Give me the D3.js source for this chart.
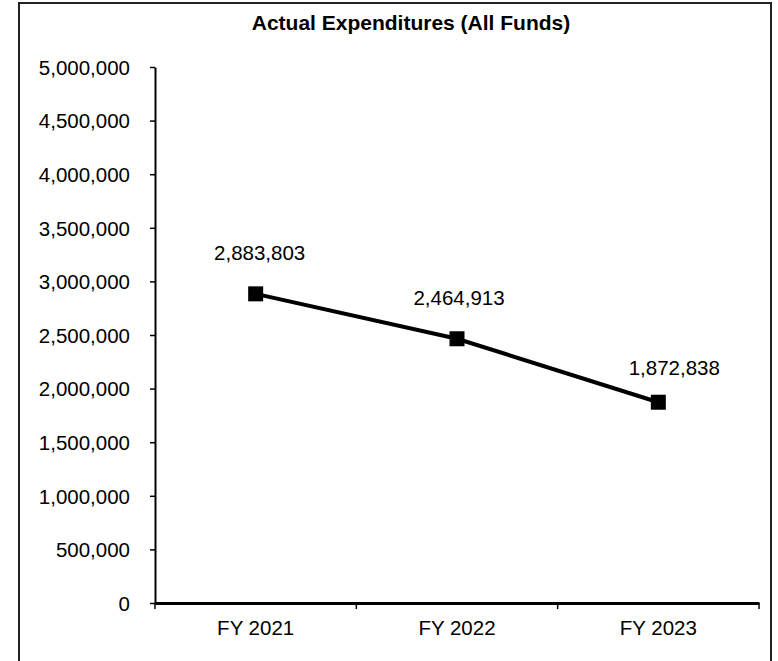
<!DOCTYPE html>
<html>
<head>
<meta charset="utf-8">
<script src="https://cdn.jsdelivr.net/npm/d3@7/dist/d3.min.js"></script>
<style>
  html, body { margin: 0; padding: 0; background: #fff; }
  svg { display: block; font-family: "Liberation Sans", Arial, sans-serif; }
</style>
</head>
<body>
<svg id="chart" width="778" height="661"></svg>
<script>
// ---- data ----
const categories = ["FY 2021", "FY 2022", "FY 2023"];
const values = [2883803, 2464913, 1872838];
const yTickValues = [0, 500000, 1000000, 1500000, 2000000, 2500000, 3000000, 3500000, 4000000, 4500000, 5000000];
const title = "Actual Expenditures (All Funds)";

// ---- layout ----
const W = 778, H = 661;
const plot = { left: 155, right: 759, top: 67, bottom: 603 };
const labelOffsets = [[4, -34], [2, -34], [16, -27]]; // data label nudges (px)

const svg = d3.select("#chart");

// frame
svg.append("rect")
  .attr("x", 19).attr("y", 3)
  .attr("width", 752).attr("height", 720)
  .attr("fill", "none").attr("stroke", "#222").attr("stroke-width", 2);

// title
svg.append("text")
  .attr("x", 411).attr("y", 30)
  .attr("text-anchor", "middle")
  .attr("font-size", 21).attr("font-weight", "bold")
  .attr("fill", "#000")
  .text(title);

const x = d3.scaleBand().domain(categories).range([plot.left, plot.right]);
const y = d3.scaleLinear().domain([0, 5000000]).range([plot.bottom, plot.top]);
const fmt = d3.format(",");

// y axis
const yAxis = svg.append("g")
  .attr("transform", `translate(${plot.left},0)`)
  .call(d3.axisLeft(y).tickValues(yTickValues).tickFormat(fmt).tickSize(5).tickSizeOuter(0).tickPadding(20));
yAxis.select(".domain").attr("stroke", "#000").attr("stroke-width", 2);
yAxis.selectAll(".tick line").attr("stroke", "#000").attr("stroke-width", 1.5);
yAxis.selectAll(".tick text")
  .attr("font-size", 20.5).attr("fill", "#000")
  .attr("font-family", "Liberation Sans, Arial, sans-serif")
  .attr("dy", "0.36em");

// x axis
const xAxis = svg.append("g")
  .attr("transform", `translate(0,${plot.bottom})`)
  .call(d3.axisBottom(x).tickSize(0).tickSizeOuter(0).tickPadding(17));
xAxis.select(".domain").attr("stroke", "#000").attr("stroke-width", 3);
xAxis.selectAll(".tick text")
  .attr("font-size", 20.5).attr("fill", "#000")
  .attr("font-family", "Liberation Sans, Arial, sans-serif");
// category boundary ticks
const boundaries = categories.map(c => x(c)).concat([x(categories[categories.length - 1]) + x.bandwidth()]);
svg.append("g").selectAll("line").data(boundaries).join("line")
  .attr("x1", d => d).attr("x2", d => d)
  .attr("y1", plot.bottom).attr("y2", plot.bottom + 6)
  .attr("stroke", "#000").attr("stroke-width", 1.5);

// line
const cx = c => x(c) + x.bandwidth() / 2;
const line = d3.line().x((d, i) => cx(categories[i])).y(d => y(d));
svg.append("path")
  .datum(values)
  .attr("d", line)
  .attr("fill", "none").attr("stroke", "#000").attr("stroke-width", 4);

// markers
const ms = 15;
svg.append("g").selectAll("rect").data(values).join("rect")
  .attr("x", (d, i) => cx(categories[i]) - ms / 2)
  .attr("y", d => y(d) - ms / 2)
  .attr("width", ms).attr("height", ms)
  .attr("fill", "#000");

// data labels
svg.append("g").selectAll("text").data(values).join("text")
  .attr("x", (d, i) => cx(categories[i]) + labelOffsets[i][0])
  .attr("y", (d, i) => y(d) + labelOffsets[i][1])
  .attr("text-anchor", "middle")
  .attr("font-size", 20.5).attr("fill", "#000")
  .text(d => fmt(d));
</script>
</body>
</html>
